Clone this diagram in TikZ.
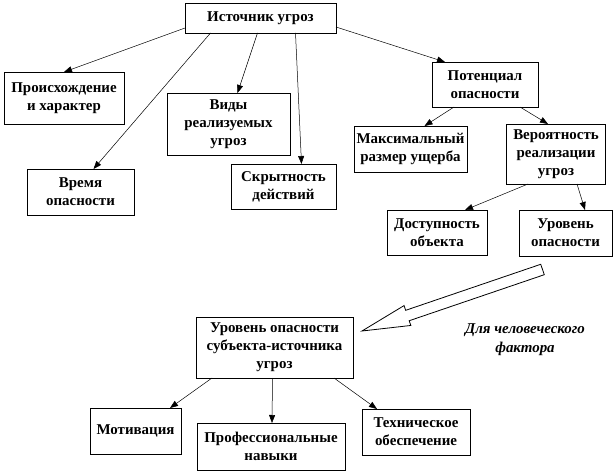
\documentclass[tikz,border=0pt]{standalone}
\usepackage{fontspec}
\setmainfont{Liberation Serif}
\usepackage{tikz}
\usetikzlibrary{calc,arrows.meta}
\newcommand\boxfont{\fontsize{15}{18}\selectfont\bfseries}
\tikzset{
  box/.style     = {draw, line width=0.8bp, align=center, font=\boxfont,
                    inner sep=1bp, outer sep=0pt},
  link/.style    = {-{Triangle[length=8bp,width=6bp]}, line width=0.5bp},
  bigarrow/.style = {draw, line width=0.8bp, fill=white, line join=miter},
  note/.style    = {align=center, font=\fontsize{15}{19}\selectfont\bfseries\itshape},
}

\begin{document}
\begin{tikzpicture}[x=1bp, y=-1bp]
  \useasboundingbox (0,0) rectangle (616,472);
  \node[box, minimum width=151bp, minimum height=30bp] (src)   at (260.5,18)  {Источник угроз};
  \node[box, minimum width=120bp, minimum height=52bp] (orig)  at (64,98)     {Происхождение\\и характер};
  \node[box, minimum width=123bp, minimum height=62bp] (kinds) at (228.5,124) {Виды\\реализуемых\\угроз};
  \node[box, minimum width=107bp, minimum height=46bp] (time)  at (80.5,192)  {Время\\опасности};
  \node[box, minimum width=105bp, minimum height=45bp] (hide)  at (283.5,186.5) {Скрытность\\действий};
  \node[box, minimum width=106bp, minimum height=45bp] (pot)   at (485,84.5)  {Потенциал\\опасности};
  \node[box, minimum width=113bp, minimum height=46bp] (maxd)  at (410.5,149) {Максимальный\\размер ущерба};
  \node[box, minimum width=99bp,  minimum height=60bp] (prob)  at (556,154)   {Вероятность\\реализации\\угроз};
  \node[box, minimum width=100bp, minimum height=45bp] (acc)   at (437,232.5) {Доступность\\объекта};
  \node[box, minimum width=93bp,  minimum height=46bp] (lvl)   at (565.5,233) {Уровень\\опасности};
  \node[box, minimum width=157bp, minimum height=61bp] (subj)  at (274.5,347.5) {Уровень опасности\\субъекта-источника\\угроз};
  \node[box, minimum width=91bp,  minimum height=46bp] (motiv) at (135.5,431) {Мотивация};
  \node[box, minimum width=148bp, minimum height=47bp] (prof)  at (271,446.5) {Профессиональные\\навыки};
  \node[box, minimum width=108bp, minimum height=46bp] (tech)  at (416,432)   {Техническое\\обеспечение};
  \node[note] (human) at (525,340) {Для человеческого\\фактора};

  % source of threats
  \draw[link] ([yshift=-10bp]src.west) to (orig.north);
  \draw[link] ([xshift=-50bp]src.south) to ([xshift=13bp]time.north);
  \draw[link] ([xshift=-3bp]src.south) to ([xshift=9bp]kinds.north);
  \draw[link] ([xshift=35bp]src.south) to ([xshift=18bp]hide.north);
  \draw[link] ([yshift=-9bp]src.east) to ([xshift=-40bp]pot.north);
  % potential
  \draw[link] ([xshift=-31bp]pot.south) to ([xshift=14bp]maxd.north);
  \draw[link] ([xshift=35bp]pot.south) to ([xshift=-8bp]prob.north);
  \draw[link] ([xshift=-28bp]prob.south) to ([xshift=28bp]acc.north);
  \draw[link] ([xshift=21bp]prob.south) to ([xshift=19.5bp]lvl.north);
  % subject
  \draw[link] ([xshift=-62.5bp]subj.south) to ([xshift=34.5bp]motiv.north);
  \draw[link] ([xshift=-2bp]subj.south) to ([xshift=1bp]prof.north);
  \draw[link] ([xshift=59.5bp]subj.south) to ([xshift=-39bp]tech.north);

  % hollow arrow
  \coordinate (btail) at (542.5,269.5);
  \coordinate (btip)  at (362,331);
  \coordinate (bhead) at ($(btip)!48bp!(btail)$);
  \draw[bigarrow] ($(btail)!5.5bp!90:(btip)$) -- ($(bhead)!5.5bp!90:(btip)$)
    -- ($(bhead)!10.5bp!90:(btip)$) -- (btip) -- ($(bhead)!10.5bp!-90:(btip)$)
    -- ($(bhead)!5.5bp!-90:(btip)$) -- ($(btail)!5.5bp!-90:(btip)$) -- cycle;
\end{tikzpicture}
\end{document}
